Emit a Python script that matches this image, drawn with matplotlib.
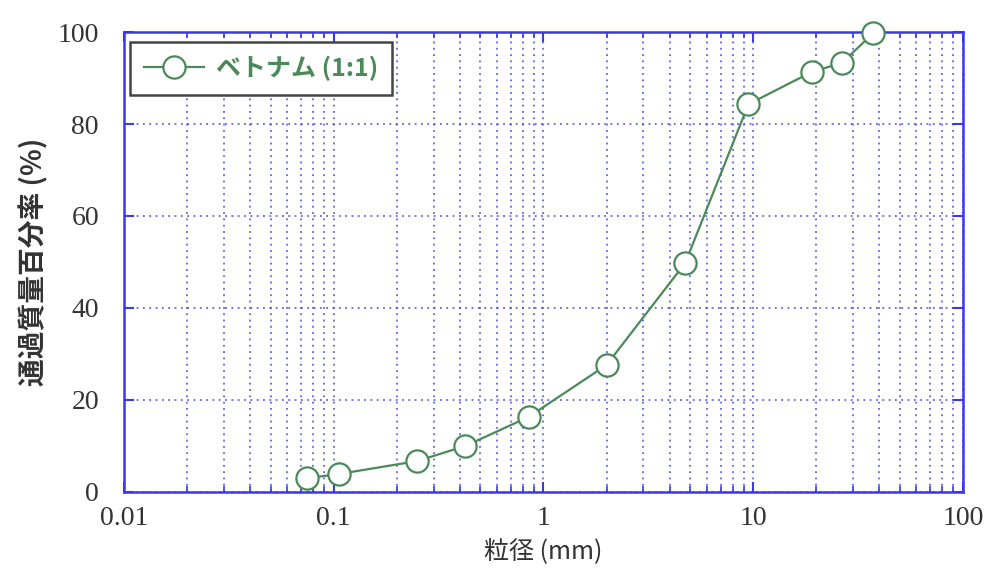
import matplotlib
matplotlib.use("Agg")
import matplotlib.pyplot as plt
from matplotlib.ticker import LogLocator, NullFormatter, FixedLocator

size_mm = [0.075, 0.106, 0.25, 0.425, 0.85, 2.0, 4.75, 9.5, 19.0, 26.5, 37.5]
passing = [3.0, 3.9, 6.7, 10.0, 16.3, 27.6, 49.8, 84.3, 91.3, 93.3, 99.8]
series_label = "ベトナム (1:1)"
xlabel = "粒径 (mm)"
ylabel = "通過質量百分率 (%)"
xticks = [0.01, 0.1, 1, 10, 100]
xticklabels = ["0.01", "0.1", "1", "10", "100"]
yticks = [0, 20, 40, 60, 80, 100]

blue = "#3a3ae0"
green = "#4a8a58"
num_font = ["Liberation Serif", "DejaVu Serif"]
jp_font = ["Noto Sans CJK JP", "DejaVu Sans"]

fig = plt.figure(figsize=(9.88, 5.72), dpi=100)
ax = fig.add_axes([0.1255, 0.140, 0.849, 0.804])
ax.set_xscale("log")
ax.set_xlim(0.01, 100)
ax.set_ylim(0, 100)

ax.plot(size_mm, passing, color=green, lw=1.6, marker="o", ms=16,
        mfc="white", mec=green, mew=1.6, label=series_label, zorder=3, clip_on=False)

ax.xaxis.set_major_locator(FixedLocator(xticks))
ax.set_xticklabels(xticklabels)
ax.xaxis.set_minor_locator(LogLocator(base=10, subs=range(2, 10)))
ax.xaxis.set_minor_formatter(NullFormatter())
ax.set_yticks(yticks)

ax.grid(True, which="both", axis="x", color=blue, ls=(0, (1, 2.5)), lw=1.3, alpha=0.8)
ax.grid(True, which="major", axis="y", color=blue, ls=(0, (1, 2.5)), lw=1.3, alpha=0.8)

for s in ax.spines.values():
    s.set_color(blue)
    s.set_linewidth(1.8)

ax.tick_params(which="both", direction="in", color=blue, top=True, right=True)
ax.tick_params(which="major", length=7, width=1.5)
ax.tick_params(which="minor", length=4, width=1.2)
ax.tick_params(axis="both", labelsize=20, labelcolor="#333333")
ax.tick_params(axis="y", pad=18)
ax.tick_params(axis="x", pad=10)
for lab in ax.get_xticklabels() + ax.get_yticklabels():
    lab.set_family(num_font)

ax.set_xlabel(xlabel, family=jp_font, fontsize=18, color="#333333", labelpad=6)
ax.set_ylabel(ylabel, family=jp_font, fontsize=20, fontweight="bold",
              color="#333333", labelpad=7)

leg = ax.legend(loc="upper left", bbox_to_anchor=(0.007, 0.978), borderaxespad=0,
                frameon=True, fancybox=False, edgecolor="#444444", framealpha=1,
                prop={"family": jp_font, "size": 18, "weight": "bold"},
                handlelength=2.4, handletextpad=0.5,
                borderpad=0.55, labelcolor=green)
leg.get_frame().set_linewidth(1.8)

fig.savefig("out.png", dpi=100, facecolor="white")
